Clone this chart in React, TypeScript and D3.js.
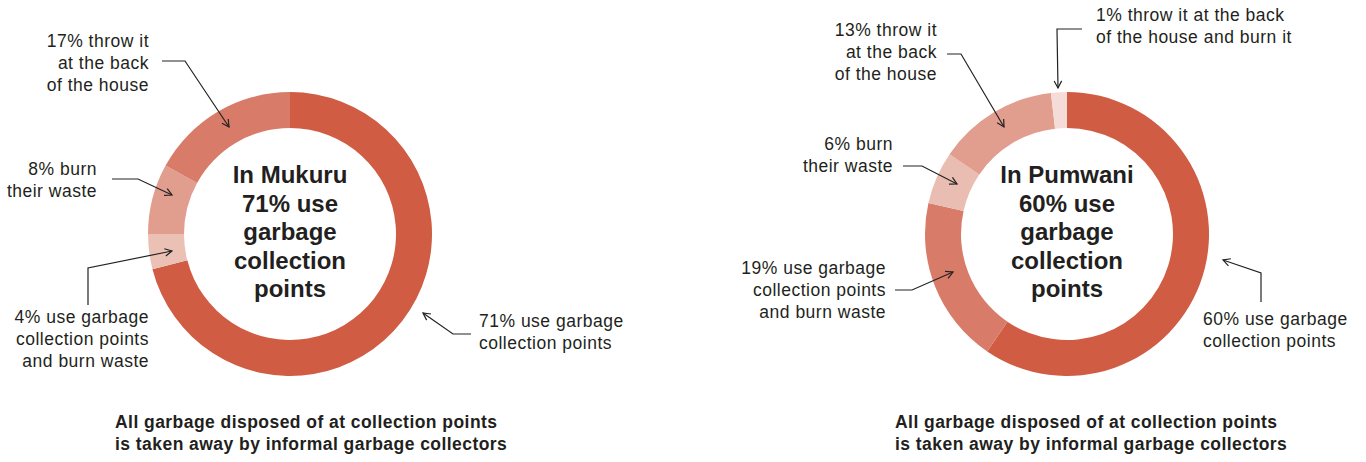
import React from "react";
import * as d3 from "d3";

// ---- Data ----
const mukuruCategories = [
  "use garbage collection points",
  "use garbage collection points and burn waste",
  "burn their waste",
  "throw it at the back of the house",
];
const mukuruValues = [71, 4, 8, 17];
const mukuruColors = ["#D05C43", "#EBC1B6", "#E19D8E", "#D87B69"];

const pumwaniCategories = [
  "use garbage collection points",
  "use garbage collection points and burn waste",
  "burn their waste",
  "throw it at the back of the house",
  "throw it at the back of the house and burn it",
];
// slice sizes as drawn in the picture (labels round them)
const pumwaniValues = [59.5, 19, 6, 13.7, 1.8];
const pumwaniColors = ["#D05C43", "#D87B69", "#EABDB2", "#E19D8E", "#F6DCD8"];

const mukuruTitle = ["In Mukuru", "71% use", "garbage", "collection", "points"];
const pumwaniTitle = ["In Pumwani", "60% use", "garbage", "collection", "points"];

const caption = [
  "All garbage disposed of at collection points",
  "is taken away by informal garbage collectors",
];

type Ann = {
  lines: string[];
  x: number;
  y: number;
  anchor: "start" | "end";
  path: [number, number][];
};

const mukuruAnns: Ann[] = [
  { lines: ["71% use garbage", "collection points"], x: 479, y: 327, anchor: "start",
    path: [[471, 334], [453, 334], [423, 313]] },
  { lines: ["4% use garbage", "collection points", "and burn waste"], x: 149, y: 323, anchor: "end",
    path: [[88, 305], [88, 268], [172, 251]] },
  { lines: ["8% burn", "their waste"], x: 97, y: 175, anchor: "end",
    path: [[112, 179], [138, 179], [172, 195]] },
  { lines: ["17% throw it", "at the back", "of the house"], x: 149, y: 47, anchor: "end",
    path: [[162, 61], [185, 61], [229, 127]] },
];

const pumwaniAnns: Ann[] = [
  { lines: ["60% use garbage", "collection points"], x: 1203, y: 325, anchor: "start",
    path: [[1261, 302], [1261, 273], [1223, 260]] },
  { lines: ["19% use garbage", "collection points", "and burn waste"], x: 886, y: 274, anchor: "end",
    path: [[895, 290], [912, 290], [953, 272]] },
  { lines: ["6% burn", "their waste"], x: 893, y: 150, anchor: "end",
    path: [[903, 166], [922, 166], [957, 184]] },
  { lines: ["13% throw it", "at the back", "of the house"], x: 937, y: 36, anchor: "end",
    path: [[947, 54], [961, 54], [1004, 127]] },
  { lines: ["1% throw it at the back", "of the house and burn it"], x: 1096, y: 21, anchor: "start",
    path: [[1082, 29], [1057, 29], [1058, 88]] },
];

const FONT = "'Liberation Sans', Arial, Helvetica, sans-serif";

function Arrow({ path }: { path: [number, number][] }) {
  const line = d3.line();
  const [x1, y1] = path[path.length - 2];
  const [x2, y2] = path[path.length - 1];
  const ang = Math.atan2(y2 - y1, x2 - x1);
  const L = 8;
  const a = (28 * Math.PI) / 180;
  const h1: [number, number] = [x2 - L * Math.cos(ang - a), y2 - L * Math.sin(ang - a)];
  const h2: [number, number] = [x2 - L * Math.cos(ang + a), y2 - L * Math.sin(ang + a)];
  return (
    <g fill="none" stroke="#222" strokeWidth={1.2}>
      <path d={line(path) || ""} />
      <path d={line([h1, [x2, y2], h2]) || ""} />
    </g>
  );
}

function Donut({ cx, cy, values, colors, title, anns, capX }: any) {
  const pie = d3.pie<number>().sort(null).value((d) => d);
  const arc = d3.arc<d3.PieArcDatum<number>>().innerRadius(106).outerRadius(142);
  const arcs = pie(values);
  const lineH = 28.5;
  return (
    <g>
      <g transform={`translate(${cx},${cy})`}>
        {arcs.map((a, i) => (
          <path key={i} d={arc(a) || ""} fill={colors[i]} />
        ))}
        <text textAnchor="middle" fontFamily={FONT} fontWeight="bold" fontSize={24} fill="#231f20">
          {title.map((t: string, i: number) => (
            <tspan key={i} x={0} y={-51 + i * lineH}>{t}</tspan>
          ))}
        </text>
      </g>
      {anns.map((an: Ann, i: number) => (
        <g key={i}>
          <text textAnchor={an.anchor} fontFamily={FONT} fontSize={17.5} letterSpacing={0.5} fill="#231f20">
            {an.lines.map((l, j) => (
              <tspan key={j} x={an.x} y={an.y + j * 22}>{l}</tspan>
            ))}
          </text>
          <Arrow path={an.path} />
        </g>
      ))}
      <text fontFamily={FONT} fontWeight="bold" fontSize={17.5} letterSpacing={0.45} fill="#231f20">
        {caption.map((c, j) => (
          <tspan key={j} x={capX} y={428 + j * 21.5}>{c}</tspan>
        ))}
      </text>
    </g>
  );
}

export default function App() {
  return (
    <svg width={1366} height={462} style={{ position: "absolute", left: 0, top: 0, background: "#fff" }}>
      <Donut cx={290} cy={234} values={mukuruValues} colors={mukuruColors} title={mukuruTitle}
        anns={mukuruAnns} capX={115} />
      <Donut cx={1067} cy={234} values={pumwaniValues} colors={pumwaniColors} title={pumwaniTitle}
        anns={pumwaniAnns} capX={895} />
    </svg>
  );
}
